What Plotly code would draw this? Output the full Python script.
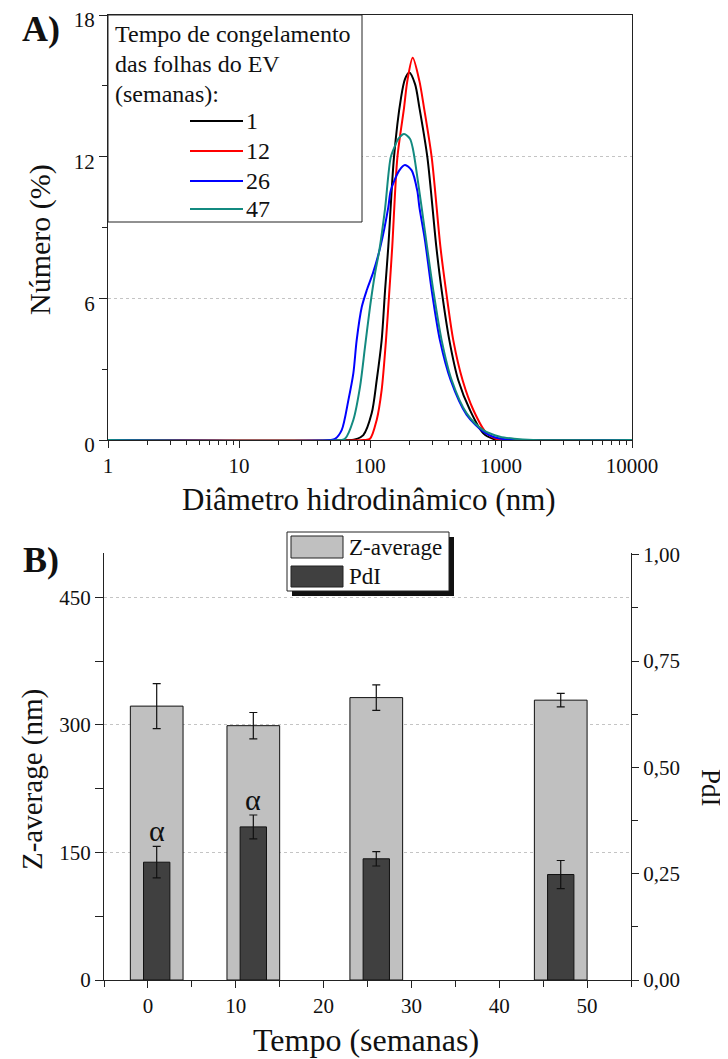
import plotly.graph_objects as go

W, H = 728, 1059
OFF = 8  # the page body margin shifts the figure by 8 px
FONT = "Liberation Serif, Times New Roman, serif"

# ---------------- Panel A data (DLS number distributions) ----------------
series_names = ["1", "12", "26", "47"]
series_colors = ["#000000", "#ff0000", "#0000ff", "#138a80"]

diam_1 = [1, 72.4, 76.7, 88.9, 103.0, 112.5, 122.7, 130.3, 138.0, 152.4, 172.6, 184.9,
          199.5, 220.8, 238.2, 274.2, 320.6, 352.4, 403.6, 472.1, 579.4, 732.8, 899.5, 955, 10000]
num_1 = [0, 0, 0.02, 0.21, 1.13, 2.53, 4.22, 6.34, 8.2, 11.97, 14.5, 15.28,
         15.56, 15.07, 14.08, 11.97, 8.2, 6.34, 4.22, 2.53, 1.27, 0.28, 0.02, 0, 0]

diam_12 = [1, 89.1, 100, 112.5, 122.7, 132.4, 140.6, 147.9, 161.8, 182.0, 192.8, 211.8,
           238.2, 258.2, 295.8, 344.4, 380.2, 432.5, 509.3, 615.2, 778.0, 977, 10000]
num_12 = [0, 0, 0.05, 0.85, 2.11, 4.22, 6.34, 8.2, 11.97, 14.08, 15.21, 16.19,
          15.21, 14.08, 11.97, 8.2, 6.34, 4.22, 2.53, 1.27, 0.28, 0, 0]

diam_26 = [1, 50.1, 54.1, 60.8, 68.4, 74.6, 79.1, 86.5, 94.4, 105.9, 120.2, 138.0, 143.9,
           167.5, 184.9, 208.0, 229.6, 238.2, 263.0, 295.8, 342.0, 413.0, 547.0, 732.8, 891, 1241, 10000]
num_26 = [0, 0, 0.05, 0.42, 1.69, 2.82, 4.22, 5.63, 6.34, 7.11, 8.2, 9.86, 10.56,
          11.42, 11.65, 11.42, 10.56, 9.86, 8.45, 6.34, 4.22, 2.53, 1.06, 0.35, 0.12, 0, 0]

diam_47 = [1, 60.3, 64.4, 74.6, 83.9, 91.6, 100, 109.1, 117.8, 130.3, 143.9, 154.9, 164.4, 182.0,
           201.8, 211.3, 218.3, 247.7, 272.3, 304.1, 352.4, 420.7, 547.0, 732.8, 981.8, 1259, 1758, 10000]
num_47 = [0, 0, 0.05, 0.85, 2.25, 3.94, 5.63, 7.04, 8.03, 9.8, 11.97, 12.45, 12.75, 12.96,
          12.76, 12.4, 11.97, 9.86, 8.2, 6.34, 4.22, 2.53, 1.13, 0.42, 0.14, 0.05, 0, 0]

diam_all = [diam_1, diam_12, diam_26, diam_47]
num_all = [num_1, num_12, num_26, num_47]

legend_title_lines = ["Tempo de congelamento", "das folhas do EV", "(semanas):"]

xa_tickvals = [1, 10, 100, 1000, 10000]
xa_ticktext = ["1", "10", "100", "1000", "10000"]
ya_tickvals = [0, 6, 12, 18]

# ---------------- Panel B data ----------------
weeks = [1, 12, 26, 47]
z_average = [322, 299, 332, 329]
z_average_err = [26.5, 15.5, 15, 8]
pdi = [0.277, 0.360, 0.285, 0.248]
pdi_err = [0.037, 0.028, 0.017, 0.033]
signif = ["α", "α", "", ""]

xb_tickvals = [0, 10, 20, 30, 40, 50]
yb_tickvals = [0, 150, 300, 450]
yb2_tickvals = [0, 0.25, 0.5, 0.75, 1.0]
yb2_ticktext = ["0,00", "0,25", "0,50", "0,75", "1,00"]
bar_names = ["Z-average", "PdI"]
bar_colors = ["#c0c0c0", "#404040"]


def fx(px):
    return (px - OFF) / W


def fy(py):
    return 1 - (py - OFF) / H


fig = go.Figure()

for d, n, name, col in zip(diam_all, num_all, series_names, series_colors):
    fig.add_trace(go.Scatter(x=d, y=n, mode="lines", name=name,
                             line=dict(color=col, width=2, shape="spline", smoothing=0.8),
                             xaxis="x", yaxis="y", showlegend=False))

fig.add_trace(go.Bar(x=weeks, y=z_average, width=6, name=bar_names[0],
                     marker=dict(color=bar_colors[0], line=dict(color="#111", width=1)),
                     error_y=dict(type="data", array=z_average_err, color="#111", thickness=1.2, width=4),
                     xaxis="x2", yaxis="y2", showlegend=False))
fig.add_trace(go.Bar(x=weeks, y=pdi, width=3, name=bar_names[1],
                     marker=dict(color=bar_colors[1], line=dict(color="#111", width=1)),
                     error_y=dict(type="data", array=pdi_err, color="#111", thickness=1.2, width=4),
                     xaxis="x2", yaxis="y3", showlegend=False))

axis_common = dict(showline=True, linecolor="#222", linewidth=1, zeroline=False, automargin=False,
                   tickfont=dict(family=FONT, size=21, color="#111"), tickcolor="#222",
                   ticks="outside", ticklabeloverflow="allow")

fig.update_layout(
    width=W, height=H, autosize=False,
    margin=dict(l=0, r=0, t=0, b=0, pad=0, autoexpand=False),
    paper_bgcolor="white", plot_bgcolor="white",
    barmode="overlay",
    showlegend=False,
    xaxis=dict(axis_common, type="log", range=[0, 4], domain=[fx(108), fx(632)],
               anchor="y", mirror=True, tickvals=xa_tickvals, ticktext=xa_ticktext,
               ticklen=7, showgrid=False,
               minor=dict(dtick="D1", ticks="outside", ticklen=4, tickcolor="#222", showgrid=False)),
    yaxis=dict(axis_common, range=[0, 18], domain=[fy(440), fy(15)], anchor="x",
               mirror=True, tickvals=ya_tickvals, ticklen=8, ticklabelshift=5,
               showgrid=True, gridcolor="#c4c4c4", griddash="3px,3px", gridwidth=1,
               minor=dict(dtick=3, ticks="outside", ticklen=5, tickcolor="#222", showgrid=False)),
    xaxis2=dict(axis_common, range=[-5, 55], domain=[fx(104), fx(631)], anchor="y2",
                tickvals=xb_tickvals, ticklen=7, showgrid=False,
                minor=dict(dtick=5, tick0=0, ticks="outside", ticklen=6, tickcolor="#222", showgrid=False)),
    xaxis3=dict(range=[-5, 55], domain=[fx(104), fx(631)], anchor="y2", overlaying="x2",
                side="top", showline=True, linecolor="#222", linewidth=1, zeroline=False,
                ticks="inside", ticklen=7, tickcolor="#222", tickvals=xb_tickvals,
                showticklabels=False, showgrid=False, automargin=False,
                minor=dict(dtick=5, tick0=0, ticks="inside", ticklen=6, tickcolor="#222", showgrid=False)),
    yaxis2=dict(axis_common, range=[0, 502], domain=[fy(980), fy(553)], anchor="x2",
                tickvals=yb_tickvals, ticklen=8,
                showgrid=True, gridcolor="#c4c4c4", griddash="3px,3px", gridwidth=1,
                minor=dict(dtick=75, tick0=0, ticks="outside", ticklen=8, tickcolor="#222", showgrid=False)),
    yaxis3=dict(axis_common, range=[0, 1.004], anchor="x2", overlaying="y2", side="right",
                tickvals=yb2_tickvals, ticktext=yb2_ticktext, ticklen=7, showgrid=False,
                minor=dict(dtick=0.125, tick0=0, ticks="outside", ticklen=6, tickcolor="#222", showgrid=False)),
)

shapes = []
annotations = []

# ---- Panel A legend (framed box in the upper-left corner) ----
shapes.append(dict(type="rect", xref="paper", yref="paper", layer="above",
                   x0=fx(108), x1=fx(362), y0=fy(222), y1=fy(15),
                   fillcolor="white", line=dict(color="#222", width=1)))
for i, line in enumerate(legend_title_lines):
    annotations.append(dict(xref="paper", yref="paper", x=fx(113), y=fy(34 + 30 * i),
                            xanchor="left", yanchor="middle", showarrow=False, text=line,
                            font=dict(family=FONT, size=24, color="#111")))
item_y = [121, 151, 181, 209]
for name, col, yy in zip(series_names, series_colors, item_y):
    shapes.append(dict(type="line", xref="paper", yref="paper", layer="above",
                       x0=fx(190), x1=fx(243), y0=fy(yy), y1=fy(yy),
                       line=dict(color=col, width=2)))
    annotations.append(dict(xref="paper", yref="paper", x=fx(244), y=fy(yy),
                            xanchor="left", yanchor="middle", showarrow=False, text=name,
                            font=dict(family=FONT, size=24, color="#111")))

# ---- Panel B legend with drop shadow ----
shapes.append(dict(type="rect", xref="paper", yref="paper", layer="above",
                   x0=fx(292), x1=fx(454), y0=fy(596), y1=fy(537),
                   fillcolor="#111", line=dict(width=0)))
shapes.append(dict(type="rect", xref="paper", yref="paper", layer="above",
                   x0=fx(287), x1=fx(449), y0=fy(591), y1=fy(532),
                   fillcolor="white", line=dict(color="#222", width=1)))
for name, col, (y0, y1) in zip(bar_names, bar_colors, [(536, 558), (566, 587)]):
    shapes.append(dict(type="rect", xref="paper", yref="paper", layer="above",
                       x0=fx(291), x1=fx(343), y0=fy(y1), y1=fy(y0),
                       fillcolor=col, line=dict(color="#222", width=1)))
    annotations.append(dict(xref="paper", yref="paper", x=fx(347), y=fy((y0 + y1) / 2),
                            xanchor="left", yanchor="middle", showarrow=False, text=name,
                            font=dict(family=FONT, size=23, color="#111")))

# ---- significance marks ----
for w, p, e, s in zip(weeks, pdi, pdi_err, signif):
    if s:
        annotations.append(dict(xref="x2", yref="y3", x=w, y=p + e + 0.037,
                                xanchor="center", yanchor="middle", showarrow=False, text=s,
                                font=dict(family=FONT, size=30, color="#111")))

# ---- panel labels and axis titles ----
annotations += [
    dict(xref="paper", yref="paper", x=fx(41), y=fy(29), text="<b>A)</b>", showarrow=False,
         xanchor="center", yanchor="middle", font=dict(family=FONT, size=36, color="#111")),
    dict(xref="paper", yref="paper", x=fx(41), y=fy(560), text="<b>B)</b>", showarrow=False,
         xanchor="center", yanchor="middle", font=dict(family=FONT, size=36, color="#111")),
    dict(xref="paper", yref="paper", x=fx(40), y=fy(240), text="Número (%)", textangle=-90,
         showarrow=False, xanchor="center", yanchor="middle", font=dict(family=FONT, size=30, color="#111")),
    dict(xref="paper", yref="paper", x=fx(369), y=fy(499), text="Diâmetro hidrodinâmico (nm)",
         showarrow=False, xanchor="center", yanchor="middle", font=dict(family=FONT, size=31, color="#111")),
    dict(xref="paper", yref="paper", x=fx(32), y=fy(780), text="Z-average (nm)", textangle=-90,
         showarrow=False, xanchor="center", yanchor="middle", font=dict(family=FONT, size=29, color="#111")),
    dict(xref="paper", yref="paper", x=fx(366), y=fy(1040), text="Tempo (semanas)",
         showarrow=False, xanchor="center", yanchor="middle", font=dict(family=FONT, size=32, color="#111")),
    dict(xref="paper", yref="paper", x=fx(711), y=fy(788), text="PdI", textangle=90,
         showarrow=False, xanchor="center", yanchor="middle", font=dict(family=FONT, size=27, color="#111")),
]

fig.update_layout(shapes=shapes, annotations=annotations)
fig.write_html("out.html")
